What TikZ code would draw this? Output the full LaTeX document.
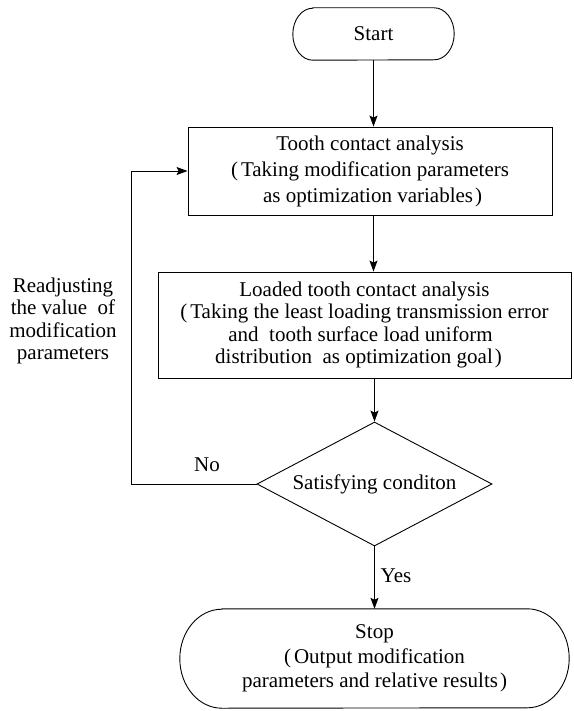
\documentclass[tikz,border=0pt]{standalone}
\usetikzlibrary{shapes.geometric,arrows.meta}
\usepackage{fontspec}
\setmainfont{Liberation Serif}
\newfontfamily\tnrfont{Liberation Serif}
\tikzset{
  base/.style={font=\tnrfont\fontsize{21}{22.5}\selectfont, align=center, inner sep=0pt},
  procbox/.style={base, draw, line width=0.9pt},
  termbox/.style={base},
  decide/.style={base, draw, line width=0.9pt, shape=diamond, aspect=1.9},
  conn/.style={line width=0.9pt, -{Stealth[length=11pt,width=8pt,inset=2pt]}},
  plainline/.style={line width=0.9pt},
  lbl/.style={font=\tnrfont\fontsize{21}{22.5}\selectfont, align=center, inner sep=0pt}
}
\newcommand{\myl}{(\kern3pt}
\newcommand{\myr}{\kern2pt)}
\begin{document}
\begin{tikzpicture}[x=1pt,y=-1pt]
\useasboundingbox (0,0) rectangle (573,711);

% Start terminal
\node[termbox, minimum width=161pt, minimum height=52pt] (start) at (373.5,34) {Start};
\draw[plainline] ([xshift=20pt]start.north west) -- ([xshift=-20pt]start.north east)
  arc[start angle=90, end angle=-90, x radius=20pt, y radius=26pt]
  -- ([xshift=20pt]start.south west)
  arc[start angle=270, end angle=90, x radius=20pt, y radius=26pt] -- cycle;

% Box 1
\node[procbox, minimum width=364pt, minimum height=88pt,
      font=\tnrfont\fontsize{21}{26}\selectfont] (box1) at (370,171)
  {Tooth contact analysis\\ \myl Taking modification parameters\\ \ as optimization variables\myr};

% Box 2
\node[procbox, minimum width=413pt, minimum height=106pt,
      font=\tnrfont\fontsize{21}{22.3}\selectfont] (box2) at (364.5,325)
  {Loaded tooth contact analysis\\ \myl Taking the least loading transmission error\\ and\ \ tooth surface load uniform\kern8pt\\ distribution\ \ as optimization goal\myr\kern12pt};

% Decision
\node[decide, minimum width=235pt, minimum height=124pt] (dia) at (374.5,484) {Satisfying conditon};

% Stop terminal
\node[termbox, minimum width=389pt, minimum height=99pt,
      font=\tnrfont\fontsize{21}{24.5}\selectfont] (stop) at (374.5,658.5)
  {Stop\\ \myl Output modification\\ parameters and relative results\myr};
\draw[plainline] ([xshift=42pt]stop.north west) -- ([xshift=-42pt]stop.north east)
  arc[start angle=90, end angle=-90, x radius=42pt, y radius=49.5pt]
  -- ([xshift=42pt]stop.south west)
  arc[start angle=270, end angle=90, x radius=42pt, y radius=49.5pt] -- cycle;

% Labels
\node[lbl] (nolbl) at (207,465) {No};
\node[lbl] (yeslbl) at (396,576) {Yes};
\node[lbl] (readj) at (63,321) {Readjusting\\ the value\ \ of\\ modification\\ parameters};

% Connectors
\coordinate (loopc) at (131,484);
\draw[conn] (start.south) -- (start.south |- box1.north);
\draw[conn] (start.south |- box1.south) -- (start.south |- box2.north);
\draw[conn] (dia.north |- box2.south) -- (dia.north);
\draw[conn] (dia.south) -- (dia.south |- stop.north);
\draw[conn] (dia.west) -- (loopc) |- (box1.west);
\end{tikzpicture}
\end{document}
